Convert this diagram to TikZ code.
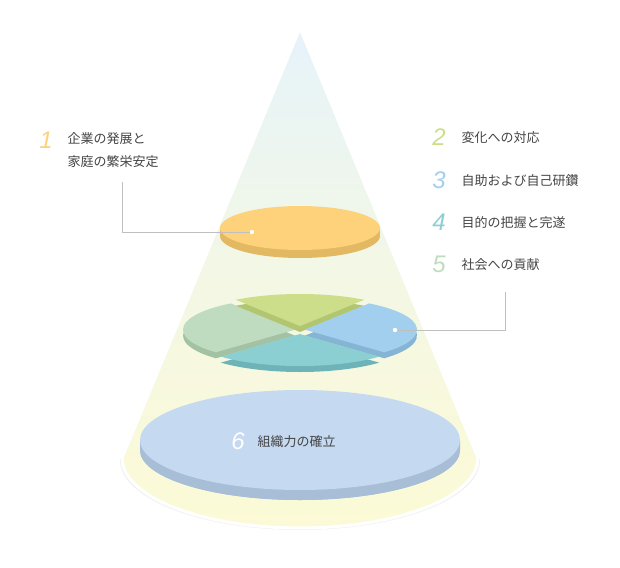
\documentclass[tikz,border=0pt]{standalone}
\usepackage{fontspec}
\setmainfont{Noto Sans CJK JP}
\newfontfamily\numfont{Liberation Sans}
\usetikzlibrary{calc}
\definecolor{cyel}{HTML}{FDD27A}\definecolor{cyelS}{HTML}{E2B862}
\definecolor{cgrn}{HTML}{CCDE8A}\definecolor{cgrnS}{HTML}{B2C672}
\definecolor{cblu}{HTML}{A2CFEE}\definecolor{cbluS}{HTML}{86B4D4}
\definecolor{ctel}{HTML}{8CCFD3}\definecolor{ctelS}{HTML}{6EB3B8}
\definecolor{clgr}{HTML}{BFDCC0}\definecolor{clgrS}{HTML}{A3C2A4}
\definecolor{cbig}{HTML}{C5D9F1}\definecolor{cbigS}{HTML}{A8BDD6}
\definecolor{conetop}{HTML}{E6F3FA}\definecolor{conebot}{HTML}{FCFAD6}
\definecolor{txt}{HTML}{444444}
\tikzset{lbl/.style={anchor=west,text=txt,font=\fontsize{13}{15}\selectfont},
num/.style={anchor=center,font=\numfont\itshape\fontsize{24}{24}\selectfont},
lead/.style={draw=black!25,line width=0.5pt}}
\begin{document}
\begin{tikzpicture}[x=1pt,y=-1pt]
\useasboundingbox (0,0) rectangle (620,567);
% cone
\fill[black!6] (300,30) -- (480,460) arc[start angle=0,end angle=180,x radius=180,y radius=70] -- cycle;
\shade[top color=conetop, bottom color=conebot, middle color=conebot!60!conetop, draw=white, line width=3pt]
 (300,28) -- (478,458) arc[start angle=0,end angle=180,x radius=178,y radius=70] -- cycle;
% big disk
\fill[cbigS] (140,440) -- (140,450) arc[start angle=180,end angle=0,x radius=160,y radius=50] -- (460,440) -- cycle;
\fill[cbigS] (300,450) ellipse[x radius=160,y radius=50];
\fill[cbig] (300,440) ellipse[x radius=160,y radius=50];
% top disk
\fill[cyelS] (300,236) ellipse[x radius=80,y radius=22];
\fill[cyelS] (220,228) rectangle (380,236);
\fill[cyel] (300,228) ellipse[x radius=80,y radius=22];
% wedges
\foreach \a/\b/\c/\s in {135/235/clgr/clgrS, 235/305/cgrn/cgrnS, 305/405/cblu/cbluS, 45/135/ctel/ctelS}{
  \pgfmathsetmacro{\m}{(\a+\b)/2}
  \begin{scope}[shift={({5*cos(\m)},{4*sin(\m)})}]
  \fill[\s] (300,336) -- ++(\a:112 and 32) arc[start angle=\a,end angle=\b,x radius=112,y radius=32] -- cycle;
  \fill[\c] (300,330) -- ++(\a:112 and 32) arc[start angle=\a,end angle=\b,x radius=112,y radius=32] -- cycle;
  \end{scope}}
% leaders
\coordinate (d1) at (252,232); \coordinate (d2) at (395,330);
\draw[lead] (122,182) -- (122,232) -- (d1);
\fill[white] (d1) circle (2.2);
\draw[lead] (505,292) -- (505,330) -- (d2);
\fill[white] (d2) circle (2.2);
% labels
\node[num,text=cyel] (n1) at (46,140) {1};
\node[lbl] (t1) at (64,139) {企業の発展と};
\node[lbl] (t1b) at (64,162) {家庭の繁栄安定};
\node[num,text=cgrn] (n2) at (439,137) {2};
\node[lbl] (t2) at (458,138) {変化への対応};
\node[num,text=cblu] (n3) at (439,180) {3};
\node[lbl] (t3) at (458,181) {自助および自己研鑽};
\node[num,text=ctel] (n4) at (439,222) {4};
\node[lbl] (t4) at (458,223) {目的の把握と完遂};
\node[num,text=clgr] (n5) at (439,264) {5};
\node[lbl] (t5) at (458,265) {社会への貢献};
\node[num,text=white] (n6) at (238,441) {6};
\node[lbl] (t6) at (254,442) {組織力の確立};
\end{tikzpicture}
\end{document}
